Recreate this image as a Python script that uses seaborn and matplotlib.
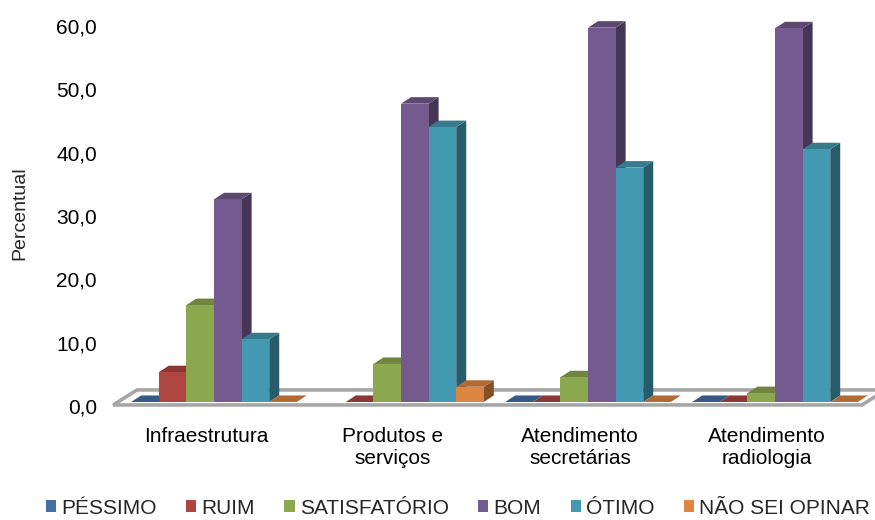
import numpy as np
import pandas as pd
import seaborn as sns
import matplotlib
matplotlib.use("Agg")
import matplotlib.pyplot as plt
import matplotlib.transforms as mtransforms
from matplotlib.patches import Polygon, Patch

# ---- data -------------------------------------------------------------
categorias = ["Infraestrutura", "Produtos e\nserviços",
              "Atendimento\nsecretárias", "Atendimento\nradiologia"]
niveis = ["PÉSSIMO", "RUIM", "SATISFATÓRIO", "BOM", "ÓTIMO", "NÃO SEI OPINAR"]

pessimo = [0.0, np.nan, 0.0, 0.0]
ruim = [4.7, 0.0, 0.0, 0.0]
satisfatorio = [15.3, 6.0, 3.9, 1.4]
bom = [32.0, 47.1, 59.1, 59.0]
otimo = [9.9, 43.4, 37.0, 39.9]
nao_sei = [0.0, 2.4, 0.0, 0.0]

y_ticks = [0, 10, 20, 30, 40, 50, 60]
cores = ["#4470A6", "#AE4541", "#8CA84F", "#745A8F", "#4399B1", "#DE8541"]

series = [pessimo, ruim, satisfatorio, bom, otimo, nao_sei]
df = pd.DataFrame(
    [(c, n, v) for n, vals in zip(niveis, series) for c, v in zip(categorias, vals)],
    columns=["categoria", "avaliacao", "percentual"],
).dropna()

# ---- figure -----------------------------------------------------------
sns.set_theme(style="white")
plt.rcParams["font.family"] = ["Liberation Sans", "DejaVu Sans"]

fig = plt.figure(figsize=(8.75, 5.2), dpi=100)
ax = fig.add_axes([100 / 875, 0.2087, 775 / 875, 0.7673])

sns.barplot(data=df, x="categoria", y="percentual", hue="avaliacao",
            order=categorias, hue_order=niveis, palette=cores,
            width=0.886, saturation=1, errorbar=None, linewidth=0,
            legend=False, ax=ax)

ax.set_xlim(-0.6096, 3.5348)
ax.set_ylim(-1.5, 61.5)

# depth of the pseudo-3D extrusion (data units)
DX, DY = 0.0535, 1.03


def shade(color, f):
    r, g, b = matplotlib.colors.to_rgb(color)
    return (r * f, g * f, b * f)


bars = [p for p in ax.patches if np.isfinite(p.get_height())]
bars.sort(key=lambda p: p.get_x())

# floor plate under the bars
x_first = bars[0].get_x()
x_last = bars[-1].get_x() + bars[-1].get_width()
fy0, fy1 = -0.47, 1.9
floor = Polygon([(x_first - 0.096, fy0), (x_last + 0.022, fy0),
                 (x_last + 0.022 + 0.128, fy1), (x_first - 0.096 + 0.128, fy1)],
                closed=True, facecolor="white", edgecolor="#a6a6a6",
                linewidth=2.6, zorder=1, clip_on=False)
ax.add_patch(floor)

for k, p in enumerate(bars):
    x, w, h = p.get_x(), p.get_width(), p.get_height()
    base = 2 + 3 * k
    front = p.get_facecolor()
    top = Polygon([(x, h), (x + w, h), (x + w + DX, h + DY), (x + DX, h + DY)],
                  closed=True, facecolor=shade(front, 0.8), edgecolor="none",
                  zorder=base + 1)
    ax.add_patch(top)
    if h > 0:
        side = Polygon([(x + w, 0), (x + w + DX, DY), (x + w + DX, h + DY), (x + w, h)],
                       closed=True, facecolor=shade(front, 0.6), edgecolor="none",
                       zorder=base)
        ax.add_patch(side)
    p.set_zorder(base + 2)

# ---- axes styling -----------------------------------------------------
for s in ax.spines.values():
    s.set_visible(False)
ax.grid(False)
ax.set_xlabel("")
ax.set_ylabel("")

ax.set_yticks(y_ticks)
ax.set_yticklabels([f"{v:.1f}".replace(".", ",") for v in y_ticks])
ax.tick_params(axis="y", length=0, pad=2.2, labelsize=15, colors="black")
ax.tick_params(axis="x", length=0, pad=11.5, labelsize=15, colors="black")

down = mtransforms.ScaledTranslation(0, -4 / 100, fig.dpi_scale_trans)
for lbl in ax.get_yticklabels():
    lbl.set_transform(lbl.get_transform() + down)
left = mtransforms.ScaledTranslation(-8 / 100, 0, fig.dpi_scale_trans)
for lbl in ax.get_xticklabels():
    lbl.set_transform(lbl.get_transform() + left)
    lbl.set_linespacing(1.15)

fig.text(20 / 875, 1 - 213 / 520, "Percentual", rotation=90,
         ha="center", va="center", fontsize=14)

handles = [Patch(facecolor=c, edgecolor="none") for c in cores]
fig.legend(handles, niveis, loc="center", bbox_to_anchor=(458 / 875, 12 / 520),
           ncol=6, frameon=False, fontsize=15, handlelength=0.5,
           handleheight=0.5, handletextpad=0.25, columnspacing=1.4,
           borderaxespad=0)

fig.savefig("out.png", dpi=100)
